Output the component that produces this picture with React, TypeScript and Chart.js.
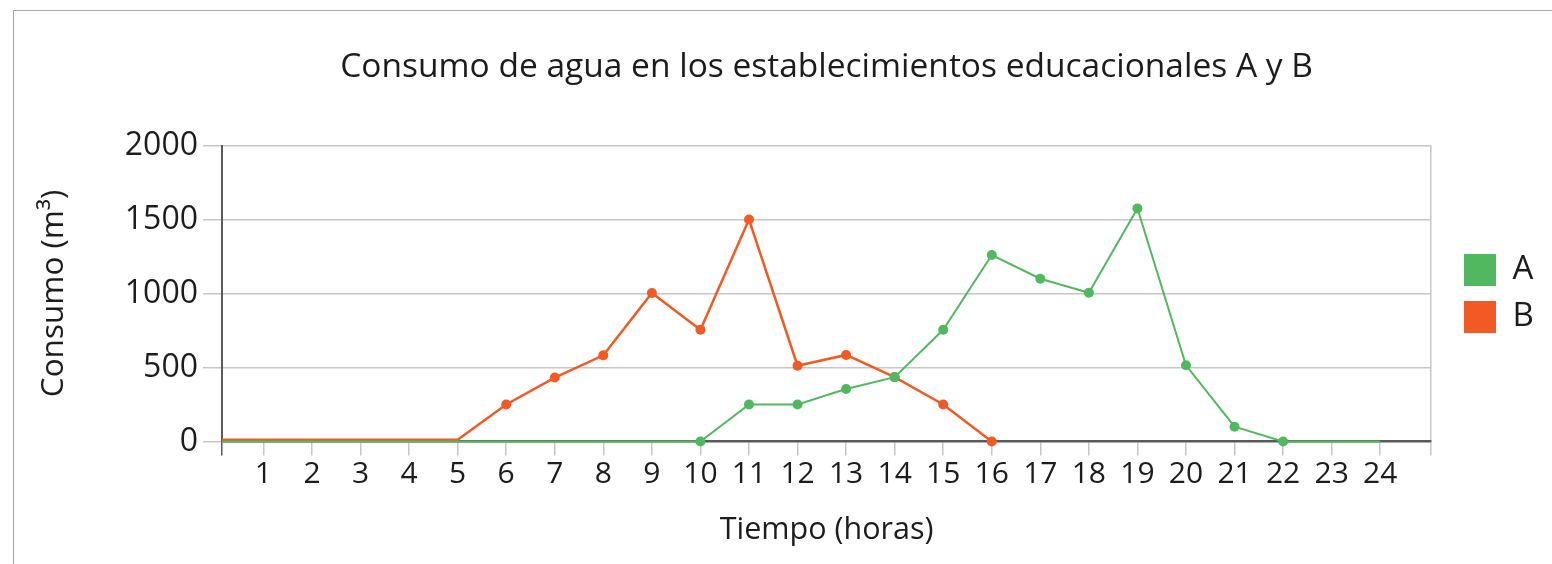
import React, { useEffect, useRef } from "react";
import { Chart, registerables } from "chart.js";

Chart.register(...registerables);

// ---- data ----
const hours = [0, 1, 2, 3, 4, 5, 6, 7, 8, 9, 10, 11, 12, 13, 14, 15, 16, 17, 18, 19, 20, 21, 22, 23, 24];
const tickValues = [1, 2, 3, 4, 5, 6, 7, 8, 9, 10, 11, 12, 13, 14, 15, 16, 17, 18, 19, 20, 21, 22, 23, 24];
const tickLabels = ["1", "2", "3", "4", "5", "6", "7", "8", "9", "10", "11", "12", "13", "14", "15", "16", "17", "18", "19", "20", "21", "22", "23", "24"];
const consumoA = [0, 0, 0, 0, 0, 0, 0, 0, 0, 0, 0, 250, 250, 355, 435, 755, 1260, 1100, 1005, 1575, 515, 100, 0, 0, 0];
const consumoB = [12, 12, 12, 12, 12, 12, 250, 432, 582, 1003, 755, 1500, 512, 585, 435, 250, 0, null, null, null, null, null, null, null, null];
const markedA = [10, 11, 12, 13, 14, 15, 16, 17, 18, 19, 20, 21, 22];
const markedB = [6, 7, 8, 9, 10, 11, 12, 13, 14, 15, 16];
const yTicks = [0, 500, 1000, 1500, 2000];
const yTickLabels = ["0", "500", "1000", "1500", "2000"];
const xMin = 0.147;
const xMax = 25.05;

const TITLE = "Consumo de agua en los establecimientos educacionales A y B";
const X_TITLE = "Tiempo (horas)";
const Y_TITLE = "Consumo (m³)";

// ---- styles ----
const FONT = "'Open Sans', sans-serif";
const TEXT = "#1e1b1c";
const GREEN = "#52b860";
const ORANGE = "#f15a24";
const LIGHT = "#c6c6c6";
const DARK = "#5a5a5a";
const CLEAR = "rgba(0,0,0,0)";

const toPoints = (vals: (number | null)[]) => hours.map((h, i) => ({ x: h, y: vals[i] }));

const legendShift = {
  id: "legendShift",
  afterLayout(chart: any) {
    const l = chart.legend;
    if (l) {
      const dx = 1450 - l.left;
      l.left += dx;
      l.right += dx;
    }
  },
};

export default function App() {
  const ref = useRef<HTMLCanvasElement | null>(null);

  useEffect(() => {
    if (!ref.current) return;
    const lastX = tickValues.length + 1;
    const chart = new Chart(ref.current, {
      type: "line",
      data: {
        datasets: [
          {
            label: "A",
            data: toPoints(consumoA) as any,
            borderColor: GREEN,
            backgroundColor: GREEN,
            borderWidth: 2,
            pointRadius: (c: any) => (markedA.includes(hours[c.dataIndex]) ? 5 : 0),
            pointBorderWidth: 0,
            pointBackgroundColor: GREEN,
            tension: 0,
            clip: { left: 0, right: false, top: false, bottom: false } as any,
          },
          {
            label: "B",
            data: toPoints(consumoB) as any,
            borderColor: ORANGE,
            backgroundColor: ORANGE,
            borderWidth: 2.5,
            pointRadius: (c: any) => (markedB.includes(hours[c.dataIndex]) ? 5 : 0),
            pointBorderWidth: 0,
            pointBackgroundColor: ORANGE,
            tension: 0,
            spanGaps: false,
            clip: { left: 0, right: false, top: false, bottom: false } as any,
          },
        ],
      },
      options: {
        responsive: true,
        maintainAspectRatio: false,
        animation: false,
        events: [],
        layout: { padding: { left: 20, right: 27, top: 0, bottom: 0 } },
        plugins: {
          title: {
            display: true,
            text: TITLE,
            fullSize: false,
            color: TEXT,
            font: { family: FONT, size: 33.5, weight: "normal" },
            padding: { top: 47, bottom: 58.3 },
          },
          legend: {
            position: "right",
            fullSize: false,
            labels: {
              boxWidth: 32,
              boxHeight: 32,
              padding: 14,
              color: TEXT,
              font: { family: FONT, size: 33 },
              generateLabels: (ch: any) =>
                (Chart.defaults.plugins.legend.labels.generateLabels as any)(ch).map((l: any) => ({ ...l, lineWidth: 0 })),
            },
          },
          tooltip: { enabled: false },
        },
        scales: {
          x: {
            type: "linear",
            min: xMin,
            max: xMax,
            afterBuildTicks: (s: any) => {
              s.ticks = [xMin, ...tickValues, xMax].map((v) => ({ value: v }));
            },
            afterFit: (s: any) => {
              s.height = 122.5;
            },
            ticks: {
              autoSkip: false,
              maxRotation: 0,
              minRotation: 0,
              padding: 1,
              color: TEXT,
              font: { family: FONT, size: 30 },
              callback: (v: any) => {
                const i = tickValues.indexOf(Number(v));
                return i >= 0 ? tickLabels[i] : "";
              },
            },
            grid: {
              drawOnChartArea: true,
              color: (c: any) => (c.index === lastX ? LIGHT : CLEAR),
              tickColor: (c: any) => (c.index === 0 ? DARK : LIGHT),
              tickLength: 14,
              lineWidth: 1.5,
            },
            border: { color: DARK, width: 2.5 },
            title: {
              display: true,
              text: X_TITLE,
              color: TEXT,
              font: { family: FONT, size: 30.5 },
              padding: { top: 0, bottom: 15 },
            },
          },
          y: {
            min: 0,
            max: 2000,
            afterBuildTicks: (s: any) => {
              s.ticks = yTicks.map((v) => ({ value: v }));
            },
            afterFit: (s: any) => {
              s.width = 202;
            },
            ticks: {
              padding: 5,
              color: TEXT,
              font: { family: FONT, size: 32 },
              callback: (v: any) => {
                const i = yTicks.indexOf(Number(v));
                return i >= 0 ? yTickLabels[i] : "";
              },
            },
            grid: {
              color: (c: any) => (c.tick && c.tick.value === 0 ? CLEAR : LIGHT),
              tickColor: LIGHT,
              tickLength: 19,
              lineWidth: 1.5,
            },
            border: { color: DARK, width: 2 },
            title: {
              display: true,
              text: Y_TITLE,
              color: TEXT,
              font: { family: FONT, size: 31.5 },
              padding: { top: 15, bottom: 0 },
            },
          },
        },
      },
      plugins: [legendShift],
    } as any);
    return () => chart.destroy();
  }, []);

  return (
    <>
      <div
        style={{
          position: "fixed",
          left: 13,
          top: 10,
          width: 1560,
          height: 570,
          borderLeft: "1.5px solid #a3a3a3",
          borderTop: "1.5px solid #a3a3a3",
          boxSizing: "border-box",
        }}
      />
      <div style={{ position: "fixed", left: 0, top: 0, width: 1552, height: 564 }}>
        <canvas ref={ref} style={{ display: "block" }} />
      </div>
    </>
  );
}
